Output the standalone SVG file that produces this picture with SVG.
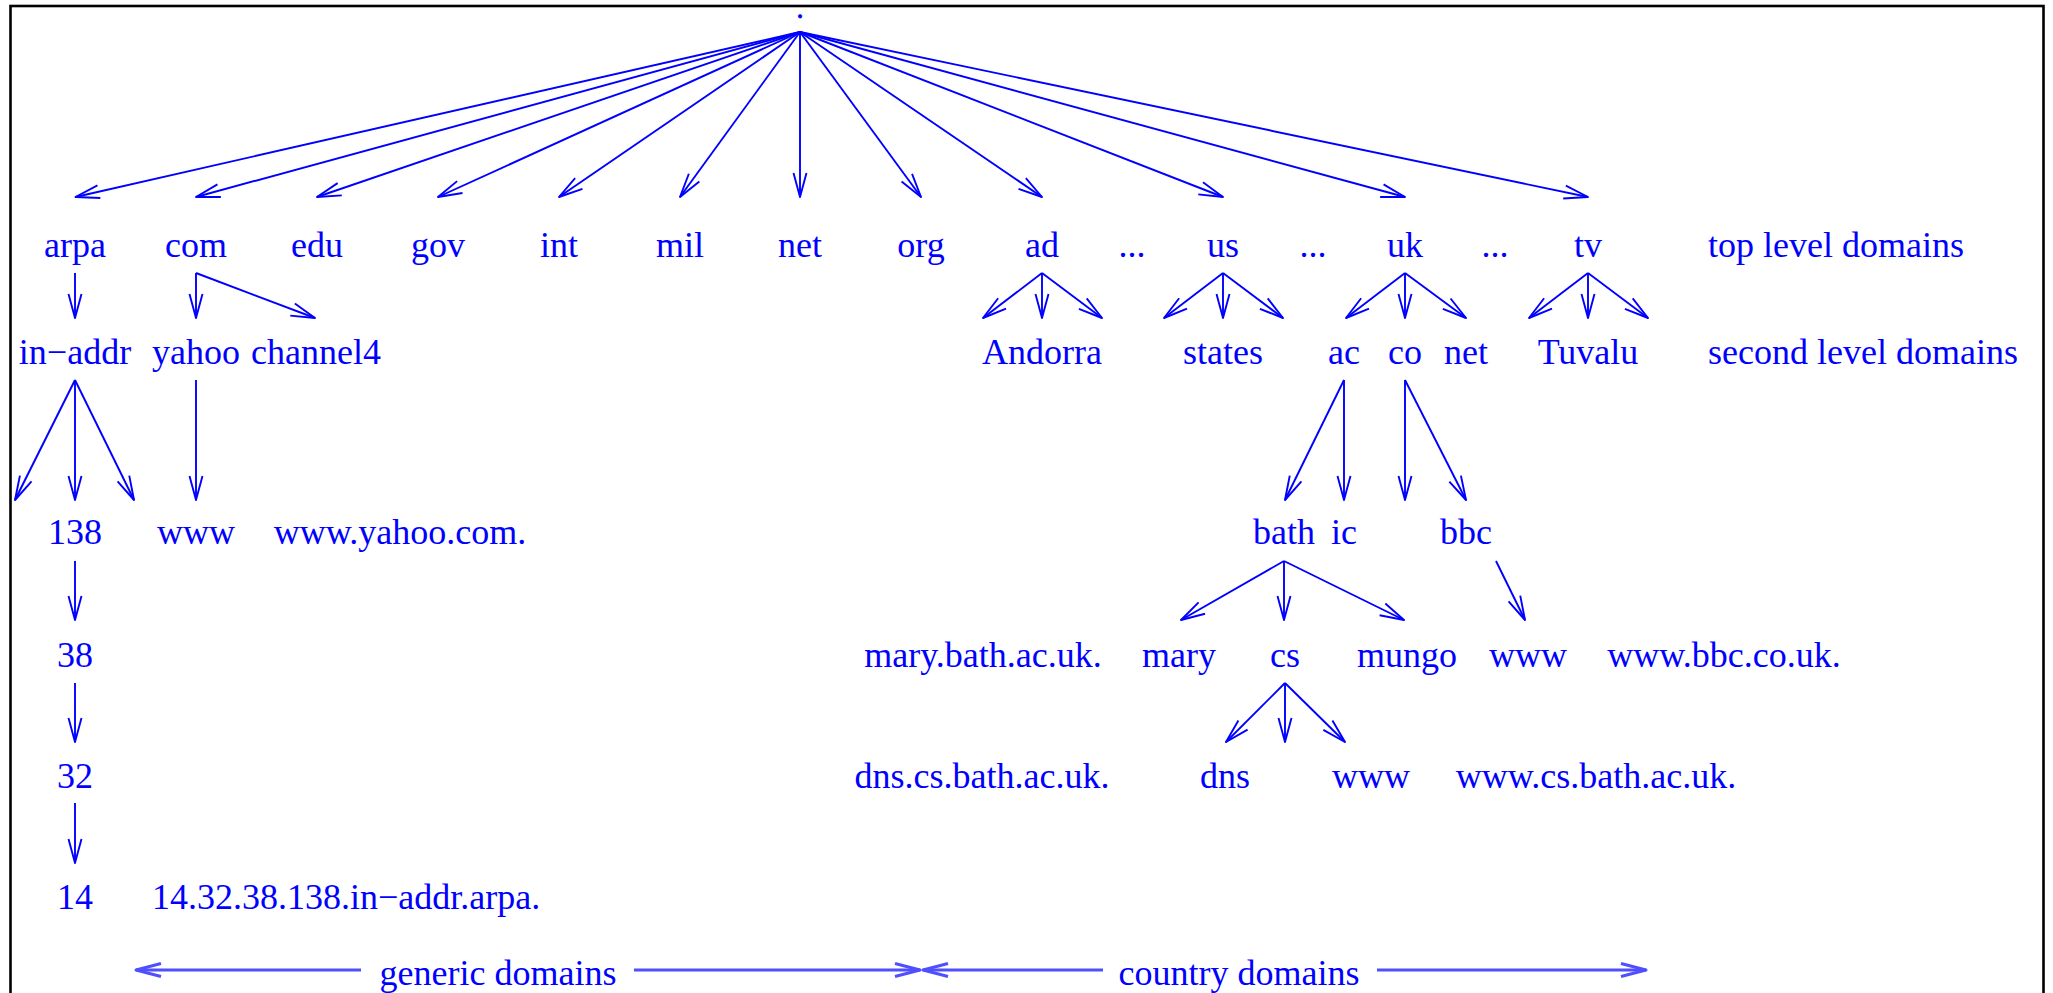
<svg xmlns="http://www.w3.org/2000/svg" width="2053" height="993" viewBox="0 0 2053 993">
  <style>
    text { font-family: "Liberation Serif", "Times New Roman", serif; font-size: 36px; fill: #0000ff; }
    .c { text-anchor: middle; }
    .root { font-size: 20px; font-weight: bold; stroke: #0000ff; stroke-width: 0.8; }
    .edge { stroke: #0000ff; stroke-width: 1.9; fill: none; marker-end: url(#ah); }
    .span { stroke: #4f4fff; stroke-width: 3; fill: none; marker-end: url(#ahw); }
  </style>
  <defs>
    <marker id="ah" markerUnits="userSpaceOnUse" orient="auto" overflow="visible" markerWidth="1" markerHeight="1">
      <path d="M-24,-6.5 L0,0 L-24,6.5" fill="none" stroke="#0000ff" stroke-width="1.9" stroke-linejoin="round"/>
    </marker>
    <marker id="ahw" markerUnits="userSpaceOnUse" orient="auto" overflow="visible" markerWidth="1" markerHeight="1">
      <path d="M-25,-6.5 L0,0 L-25,6.5" fill="none" stroke="#4f4fff" stroke-width="3" stroke-linejoin="round"/>
    </marker>
  </defs>

  <rect x="10.5" y="6" width="2033" height="1010" fill="#ffffff" stroke="#000000" stroke-width="2.6"/>

  <g id="connectors">
    <!-- root fan -->
    <line class="edge" x1="800" y1="32" x2="75.5" y2="197"/>
    <line class="edge" x1="800" y1="32" x2="196" y2="197"/>
    <line class="edge" x1="800" y1="32" x2="317" y2="197"/>
    <line class="edge" x1="800" y1="32" x2="438" y2="197"/>
    <line class="edge" x1="800" y1="32" x2="559" y2="197"/>
    <line class="edge" x1="800" y1="32" x2="680" y2="197"/>
    <line class="edge" x1="800" y1="32" x2="800" y2="197"/>
    <line class="edge" x1="800" y1="32" x2="921" y2="197"/>
    <line class="edge" x1="800" y1="32" x2="1042" y2="197"/>
    <line class="edge" x1="800" y1="32" x2="1223" y2="197"/>
    <line class="edge" x1="800" y1="32" x2="1405" y2="197"/>
    <line class="edge" x1="800" y1="32" x2="1588" y2="197"/>
    <!-- top level to second level -->
    <line class="edge" x1="75" y1="273" x2="75" y2="318"/>
    <line class="edge" x1="196" y1="273" x2="196" y2="318"/>
    <line class="edge" x1="196" y1="273" x2="315" y2="318"/>
    <line class="edge" x1="1042" y1="273" x2="983" y2="318"/>
    <line class="edge" x1="1042" y1="273" x2="1042" y2="318"/>
    <line class="edge" x1="1042" y1="273" x2="1102" y2="318"/>
    <line class="edge" x1="1223" y1="273" x2="1164" y2="318"/>
    <line class="edge" x1="1223" y1="273" x2="1223" y2="318"/>
    <line class="edge" x1="1223" y1="273" x2="1283" y2="318"/>
    <line class="edge" x1="1405" y1="273" x2="1346" y2="318"/>
    <line class="edge" x1="1405" y1="273" x2="1405" y2="318"/>
    <line class="edge" x1="1405" y1="273" x2="1466" y2="318"/>
    <line class="edge" x1="1588" y1="273" x2="1529" y2="318"/>
    <line class="edge" x1="1588" y1="273" x2="1588" y2="318"/>
    <line class="edge" x1="1588" y1="273" x2="1648" y2="318"/>
    <!-- second level to third level -->
    <line class="edge" x1="75" y1="380" x2="15" y2="500"/>
    <line class="edge" x1="75" y1="380" x2="75" y2="500"/>
    <line class="edge" x1="75" y1="380" x2="134" y2="500"/>
    <line class="edge" x1="196" y1="380" x2="196" y2="500"/>
    <line class="edge" x1="1344" y1="380" x2="1285" y2="500"/>
    <line class="edge" x1="1344" y1="380" x2="1344" y2="500"/>
    <line class="edge" x1="1405" y1="380" x2="1405" y2="500"/>
    <line class="edge" x1="1405" y1="380" x2="1466" y2="500"/>
    <!-- third level to fourth level -->
    <line class="edge" x1="75" y1="561" x2="75" y2="620"/>
    <line class="edge" x1="1284" y1="561" x2="1181" y2="620"/>
    <line class="edge" x1="1284" y1="561" x2="1284" y2="620"/>
    <line class="edge" x1="1284" y1="561" x2="1404" y2="620"/>
    <line class="edge" x1="1496" y1="561" x2="1525" y2="620"/>
    <!-- fourth level to fifth level -->
    <line class="edge" x1="75" y1="683" x2="75" y2="742"/>
    <line class="edge" x1="1285" y1="683" x2="1226" y2="742"/>
    <line class="edge" x1="1285" y1="683" x2="1285" y2="742"/>
    <line class="edge" x1="1285" y1="683" x2="1345" y2="742"/>
    <!-- fifth level to sixth level -->
    <line class="edge" x1="75" y1="803" x2="75" y2="863"/>
    <!-- extent markers -->
    <line class="span" x1="361" y1="970" x2="136" y2="970"/>
    <line class="span" x1="634" y1="970" x2="920" y2="970"/>
    <line class="span" x1="1103" y1="970" x2="923" y2="970"/>
    <line class="span" x1="1377" y1="970" x2="1646" y2="970"/>
  </g>

  <g id="root"><text class="c root" x="800" y="18">.</text></g>

  <!-- top level domains -->
  <g id="arpa"><text class="c" x="75" y="257">arpa</text></g>
  <g id="com"><text class="c" x="196" y="257">com</text></g>
  <g id="edu"><text class="c" x="317" y="257">edu</text></g>
  <g id="gov"><text class="c" x="438" y="257">gov</text></g>
  <g id="int"><text class="c" x="559" y="257">int</text></g>
  <g id="mil"><text class="c" x="680" y="257">mil</text></g>
  <g id="net"><text class="c" x="800" y="257">net</text></g>
  <g id="org"><text class="c" x="921" y="257">org</text></g>
  <g id="ad"><text class="c" x="1042" y="257">ad</text></g>
  <g id="dots1"><text class="c" x="1132" y="257">...</text></g>
  <g id="us"><text class="c" x="1223" y="257">us</text></g>
  <g id="dots2"><text class="c" x="1313" y="257">...</text></g>
  <g id="uk"><text class="c" x="1405" y="257">uk</text></g>
  <g id="dots3"><text class="c" x="1495" y="257">...</text></g>
  <g id="tv"><text class="c" x="1588" y="257">tv</text></g>
  <g id="label-top"><text x="1708" y="257">top level domains</text></g>

  <!-- second level domains -->
  <g id="in-addr"><text class="c" x="75" y="364">in−addr</text></g>
  <g id="yahoo"><text class="c" x="196" y="364">yahoo</text></g>
  <g id="channel4"><text class="c" x="316" y="364">channel4</text></g>
  <g id="andorra"><text class="c" x="1042" y="364">Andorra</text></g>
  <g id="states"><text class="c" x="1223" y="364">states</text></g>
  <g id="ac"><text class="c" x="1344" y="364">ac</text></g>
  <g id="co"><text class="c" x="1405" y="364">co</text></g>
  <g id="uk-net"><text class="c" x="1466" y="364">net</text></g>
  <g id="tuvalu"><text class="c" x="1588" y="364">Tuvalu</text></g>
  <g id="label-second"><text x="1708" y="364">second level domains</text></g>

  <!-- third level -->
  <g id="n138"><text class="c" x="75" y="544">138</text></g>
  <g id="yahoo-www"><text class="c" x="196" y="544">www</text></g>
  <g id="fqdn-yahoo"><text class="c" x="400" y="544">www.yahoo.com.</text></g>
  <g id="bath"><text class="c" x="1284" y="544">bath</text></g>
  <g id="ic"><text class="c" x="1344" y="544">ic</text></g>
  <g id="bbc"><text class="c" x="1466" y="544">bbc</text></g>

  <!-- fourth level -->
  <g id="n38"><text class="c" x="75" y="667">38</text></g>
  <g id="fqdn-mary"><text class="c" x="983" y="667">mary.bath.ac.uk.</text></g>
  <g id="mary"><text class="c" x="1179" y="667">mary</text></g>
  <g id="cs"><text class="c" x="1285" y="667">cs</text></g>
  <g id="mungo"><text class="c" x="1407" y="667">mungo</text></g>
  <g id="bbc-www"><text class="c" x="1528" y="667">www</text></g>
  <g id="fqdn-bbc"><text class="c" x="1724" y="667">www.bbc.co.uk.</text></g>

  <!-- fifth level -->
  <g id="n32"><text class="c" x="75" y="788">32</text></g>
  <g id="fqdn-dns"><text class="c" x="982" y="788">dns.cs.bath.ac.uk.</text></g>
  <g id="dns"><text class="c" x="1225" y="788">dns</text></g>
  <g id="cs-www"><text class="c" x="1371" y="788">www</text></g>
  <g id="fqdn-cs-www"><text class="c" x="1596" y="788">www.cs.bath.ac.uk.</text></g>

  <!-- sixth level -->
  <g id="n14"><text class="c" x="75" y="909">14</text></g>
  <g id="fqdn-arpa"><text x="152" y="909">14.32.38.138.in−addr.arpa.</text></g>

  <!-- extent labels -->
  <g id="label-generic"><text class="c" x="498" y="985">generic domains</text></g>
  <g id="label-country"><text class="c" x="1239" y="985">country domains</text></g>
</svg>
